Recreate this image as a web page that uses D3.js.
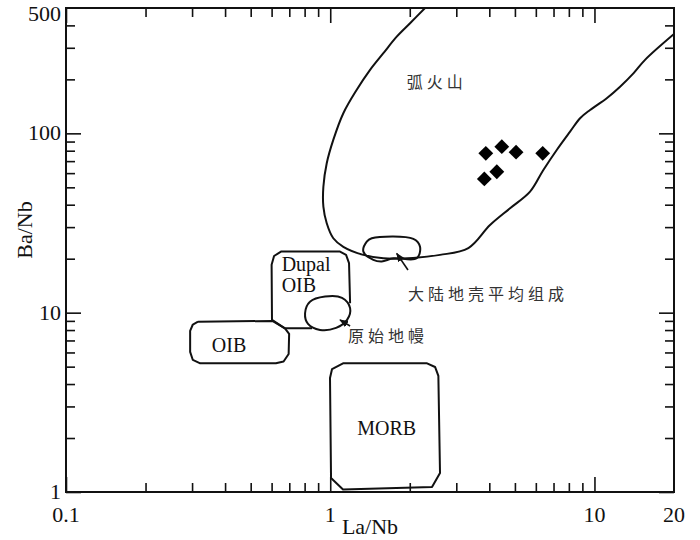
<!DOCTYPE html>
<html>
<head>
<meta charset="utf-8">
<script src="https://cdn.jsdelivr.net/npm/d3@7"></script>
<style>
  body { margin: 0; background: #fff; }
  text { font-family: "Liberation Serif", "Times New Roman", serif; fill: #111; }
  .cjk { font-family: "Noto Sans CJK SC", sans-serif; fill: #333; }
</style>
</head>
<body>
<svg id="chart" width="700" height="540"></svg>
<script>
'use strict';

// sample points (La/Nb, Ba/Nb)
const sampleLaNb = [3.88, 4.46, 5.05, 6.37, 3.83, 4.27];
const sampleBaNb = [77.4, 84.3, 78.5, 77.4, 55.7, 61.1];

// field outlines, [La/Nb, Ba/Nb]
const arcField = [
  [2.285, 500], [2.005, 411], [1.785, 346], [1.589, 280], [1.415, 226], [1.26, 175],
  [1.121, 129.5], [1.027, 91.9], [0.97, 68.1], [0.942, 50.4], [0.942, 39.0], [0.97, 31.5],
  [1.027, 26.0], [1.121, 23.3], [1.335, 21.0], [1.589, 20.1], [2.058, 20.2], [2.603, 21.0],
  [3.332, 22.9], [4.025, 30.8], [4.792, 38.2], [5.705, 47.3], [6.406, 62.5], [7.199, 80.8],
  [8.085, 102.2], [8.822, 121.4], [9.623, 135], [11.13, 157], [12.5, 182], [14.04, 216],
  [15.54, 257], [20, 358]
];
const crustField = [
  [1.335, 21.9], [1.375, 24.9], [1.436, 26.0], [2.063, 25.8], [2.187, 23.3], [2.125, 20.1],
  [1.733, 20.1], [1.566, 19.3], [1.456, 19.7]
];
const mantleField = [
  [0.803, 9.92], [0.838, 11.5], [0.956, 12.3], [1.108, 12.1], [1.189, 10.6], [1.158, 9.11],
  [1.052, 8.22], [0.915, 8.01], [0.824, 8.65]
];
const dupalField = [
  [0.853, 8.18], [0.674, 8.18], [0.602, 9.11], [0.600, 18.5], [0.613, 20.7], [0.651, 21.9],
  [1.089, 21.9], [1.148, 21.0], [1.178, 18.9], [1.189, 11.3]
];
const oibField = [
  [0.316, 8.91], [0.604, 8.99], [0.674, 8.18], [0.699, 7.61], [0.696, 5.88], [0.666, 5.34],
  [0.623, 5.22], [0.322, 5.22], [0.302, 5.45], [0.295, 6.04], [0.295, 7.91], [0.302, 8.59]
];
const morbField = [
  [1.007, 1.197], [0.998, 4.32], [1.016, 4.85], [1.118, 5.22], [2.325, 5.22], [2.493, 4.98],
  [2.566, 4.44], [2.603, 1.276], [2.428, 1.066], [1.118, 1.032]
];

// labels and arrows
const boxLabels = [
  { text: 'MORB', at: [1.636, 2.08], anchor: 'middle' },
  { text: 'OIB', at: [0.414, 6.06], anchor: 'middle' },
  { text: 'Dupal', at: [0.655, 17.1], anchor: 'start' },
  { text: 'OIB', at: [0.655, 13.1], anchor: 'start' }
];
const cjkLabels = [
  { text: '弧火山', at: [1.948, 179] },
  { text: '大陆地壳平均组成', at: [1.969, 11.8] },
  { text: '原始地幔', at: [1.168, 6.87] }
];
const arrows = [
  { from: [1.969, 17.3], to: [1.785, 21.4] },
  { from: [1.189, 8.43], to: [1.089, 9.11] }
];

const xTickLabels = [0.1, 1, 10, 20];
const yTickLabels = [1, 10, 100, 500];

const svg = d3.select('#chart');
const plotLeft = 66, plotRight = 674, plotTop = 8, plotBottom = 492;

const x = d3.scaleLog().domain([0.1, 20]).range([plotLeft, plotRight]);
const y = d3.scaleLog().domain([1, 500]).range([plotBottom, plotTop]);

const isMajor = v => Math.abs(Math.log10(v) - Math.round(Math.log10(v))) < 1e-9;
const xMinor = x.ticks().filter(v => !isMajor(v) && v < 20);
const yMinor = y.ticks().filter(v => !isMajor(v) && v < 500);
const xMajor = [0.1, 1, 10];
const yMajor = [1, 10, 100];
const majorLen = 15, minorLen = 9;

const defs = svg.append('defs');
defs.append('clipPath').attr('id', 'plot-clip')
  .append('rect').attr('x', plotLeft).attr('y', plotTop)
  .attr('width', plotRight - plotLeft).attr('height', plotBottom - plotTop);

defs.append('marker')
  .attr('id', 'arrow').attr('viewBox', '0 0 10 10')
  .attr('refX', 9).attr('refY', 5)
  .attr('markerWidth', 9).attr('markerHeight', 9)
  .attr('markerUnits', 'userSpaceOnUse').attr('orient', 'auto')
  .append('path').attr('d', 'M0,1 L10,5 L0,9 Z').attr('fill', '#111');

// ticks on all four sides, pointing in
function tickSet(axisFn, scale, values, len, transform) {
  svg.append('g')
    .attr('transform', transform)
    .call(axisFn(scale).tickValues(values).tickSizeInner(-len).tickSizeOuter(0).tickFormat(''))
    .call(g => g.select('.domain').remove())
    .call(g => g.selectAll('line').attr('stroke', '#111').attr('stroke-width', 1.6));
}
tickSet(d3.axisBottom, x, xMajor, majorLen, `translate(0,${plotBottom})`);
tickSet(d3.axisBottom, x, xMinor, minorLen, `translate(0,${plotBottom})`);
tickSet(d3.axisTop, x, xMajor, majorLen, `translate(0,${plotTop})`);
tickSet(d3.axisTop, x, xMinor, minorLen, `translate(0,${plotTop})`);
tickSet(d3.axisLeft, y, yMajor, majorLen, `translate(${plotLeft},0)`);
tickSet(d3.axisLeft, y, yMinor, minorLen, `translate(${plotLeft},0)`);
tickSet(d3.axisRight, y, yMajor, majorLen, `translate(${plotRight},0)`);
tickSet(d3.axisRight, y, yMinor, minorLen, `translate(${plotRight},0)`);

// frame
svg.append('rect')
  .attr('x', plotLeft).attr('y', plotTop)
  .attr('width', plotRight - plotLeft).attr('height', plotBottom - plotTop)
  .attr('fill', 'none').attr('stroke', '#111').attr('stroke-width', 2);

// tick labels
svg.append('g').selectAll('text').data(xTickLabels).join('text')
  .attr('x', d => x(d)).attr('y', 522)
  .attr('text-anchor', 'middle').attr('font-size', 22)
  .text(d => d);
svg.append('g').selectAll('text').data(yTickLabels).join('text')
  .attr('x', 61).attr('y', d => Math.max(y(d) + 7, 21))
  .attr('text-anchor', 'end').attr('font-size', 22)
  .text(d => d);

// axis titles
svg.append('text').attr('x', (plotLeft + plotRight) / 2).attr('y', 534)
  .attr('text-anchor', 'middle').attr('font-size', 22).text('La/Nb');
svg.append('text')
  .attr('transform', 'translate(32,230) rotate(-90)')
  .attr('text-anchor', 'middle').attr('font-size', 22).text('Ba/Nb');

// fields
const plot = svg.append('g').attr('clip-path', 'url(#plot-clip)');
const smooth = d3.line().x(d => x(d[0])).y(d => y(d[1])).curve(d3.curveCatmullRom.alpha(0.5));
const smoothClosed = d3.line().x(d => x(d[0])).y(d => y(d[1])).curve(d3.curveCatmullRomClosed.alpha(0.5));
const straight = d3.line().x(d => x(d[0])).y(d => y(d[1]));

const outline = (d, gen) => plot.append('path').attr('d', gen(d))
  .attr('fill', 'none').attr('stroke', '#111').attr('stroke-width', 2)
  .attr('stroke-linejoin', 'round');

outline(arcField, smooth);
outline(crustField, smoothClosed);
outline(mantleField, smoothClosed);
outline(dupalField, straight);
outline(oibField.concat([oibField[0]]), straight);
outline(morbField.concat([morbField[0]]), straight);

// arrows
svg.append('g').selectAll('line').data(arrows).join('line')
  .attr('x1', d => x(d.from[0])).attr('y1', d => y(d.from[1]))
  .attr('x2', d => x(d.to[0])).attr('y2', d => y(d.to[1]))
  .attr('stroke', '#111').attr('stroke-width', 1.6)
  .attr('marker-end', 'url(#arrow)');

// labels
svg.append('g').selectAll('text').data(boxLabels).join('text')
  .attr('x', d => x(d.at[0])).attr('y', d => y(d.at[1]))
  .attr('text-anchor', d => d.anchor).attr('font-size', 20)
  .text(d => d.text);
svg.append('g').selectAll('text').data(cjkLabels).join('text')
  .attr('class', 'cjk')
  .attr('x', d => x(d.at[0])).attr('y', d => y(d.at[1]))
  .attr('font-size', 16).attr('letter-spacing', 4)
  .text(d => d.text);

// samples
svg.append('g').selectAll('path').data(sampleLaNb).join('path')
  .attr('d', d3.symbol(d3.symbolSquare, 110))
  .attr('transform', (d, i) => `translate(${x(d)},${y(sampleBaNb[i])}) rotate(45)`)
  .attr('fill', '#000');
</script>
</body>
</html>
